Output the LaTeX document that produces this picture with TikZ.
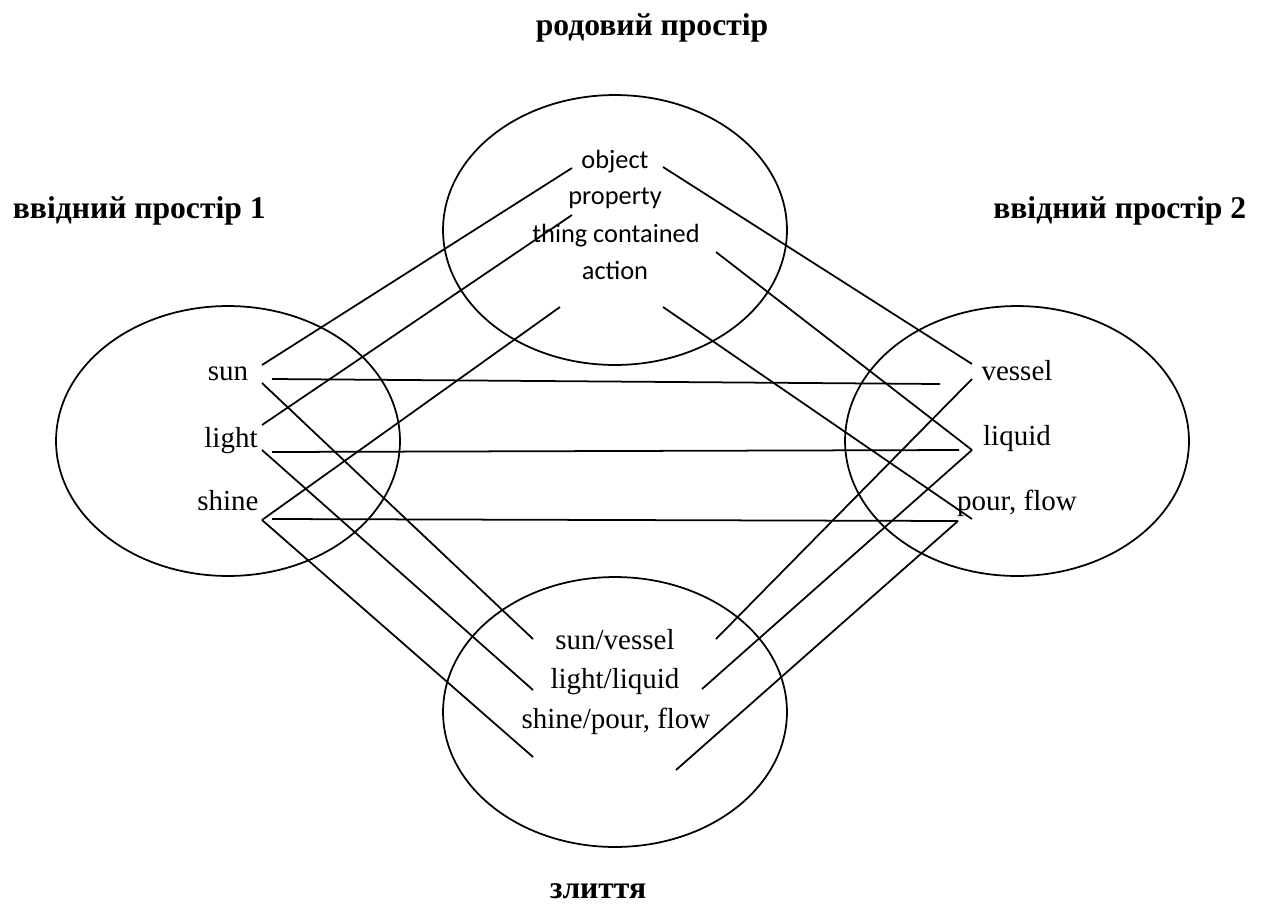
\documentclass[tikz,border=0pt]{standalone}
\usepackage{fontspec}
\setmainfont{Liberation Serif}
\newfontfamily\rolefont{Carlito}
\usetikzlibrary{shapes.geometric}

\begin{document}
\begin{tikzpicture}[x=0.02cm,y=-0.02cm,line width=1pt,
    space/.style={ellipse,draw,minimum width=6.88cm,minimum height=5.4cm,inner sep=0pt},
    title/.style={font=\fontsize{18}{22}\selectfont\bfseries,inner sep=0pt},
    word/.style={font=\fontsize{16.5}{20}\selectfont,inner sep=0pt,anchor=base},
    role/.style={font=\rolefont\fontsize{15}{18}\selectfont,inner sep=0pt,anchor=base}]
    \useasboundingbox (0,0) rectangle (1261,910);

    % the four spaces
    \node[space] (genspace) at (615,230) {};
    \node[space] (inspaceA) at (228,441) {};
    \node[space] (inspaceB) at (1017,441) {};
    \node[space] (blendspace) at (615,712) {};

    \node[title,anchor=base] (generic) at (652,35) {родовий простір};
    \node[title,anchor=base west] (inputA) at (12,218) {ввідний простір 1};
    \node[title,anchor=base east] (inputB) at (1247,218) {ввідний простір 2};
    \node[title,anchor=base] (blend) at (598,898) {злиття};

    % generic space
    \node[role] (object) at (615,168) {object};
    \node[role] (property) at (615,204) {property};
    \node[role] (thing) at (616,242) {thing contained};
    \node[role] (action) at (615,279) {action};

    % input spaces
    \node[word] (sun) at (228,380) {sun};
    \node[word] (light) at (231,447) {light};
    \node[word] (shine) at (228,510) {shine};
    \node[word] (vessel) at (1017,380) {vessel};
    \node[word] (liquid) at (1017,445) {liquid};
    \node[word] (pour) at (1017,510) {pour, flow};

    % blend
    \node[word] (sunvessel) at (615,649) {sun/vessel};
    \node[word] (lightliquid) at (615,688) {light/liquid};
    \node[word] (shinepour) at (616,728) {shine/pour, flow};

    % line ends
    \coordinate (sunA) at (262,365);
    \coordinate (sunB) at (272,379);
    \coordinate (sunC) at (262,383);
    \coordinate (lightA) at (262,425);
    \coordinate (lightB) at (272,452);
    \coordinate (lightC) at (262,450);
    \coordinate (shineA) at (262,520);
    \coordinate (shineB) at (272,519);
    \coordinate (objectL) at (572,168);
    \coordinate (objectR) at (663,167);
    \coordinate (propertyL) at (572,215);
    \coordinate (thingR) at (716,252);
    \coordinate (actionL) at (560,307);
    \coordinate (actionR) at (663,307);
    \coordinate (vesselA) at (972,364);
    \coordinate (vesselB) at (940,384);
    \coordinate (vesselC) at (972,379);
    \coordinate (liquidA) at (972,450);
    \coordinate (liquidB) at (959,450);
    \coordinate (pourA) at (972,519);
    \coordinate (pourB) at (958,521);
    \coordinate (sunvesselL) at (533,639);
    \coordinate (sunvesselR) at (716,639);
    \coordinate (lightliquidL) at (533,690);
    \coordinate (lightliquidR) at (702,689);
    \coordinate (shinepourL) at (533,757);
    \coordinate (shinepourR) at (676,770);

    \path
        (sunA) edge (objectL)
        (sunB) edge (vesselB)
        (sunC) edge (sunvesselL)
        (lightA) edge (propertyL)
        (lightB) edge (liquidB)
        (lightC) edge (lightliquidL)
        (shineA) edge (actionL)
            edge (shinepourL)
        (shineB) edge (pourB)
        (objectR) edge (vesselA)
        (thingR) edge (liquidA)
        (actionR) edge (pourA)
        (vesselC) edge (sunvesselR)
        (liquidA) edge (lightliquidR)
        (pourB) edge (shinepourR);
\end{tikzpicture}
\end{document}
